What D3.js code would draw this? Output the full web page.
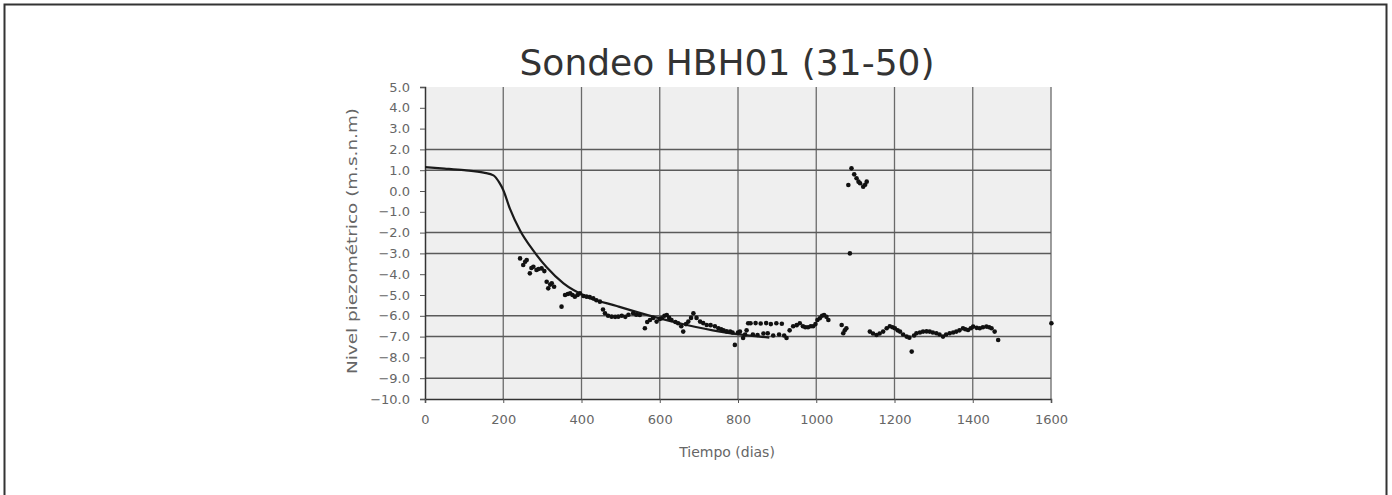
<!DOCTYPE html>
<html>
<head>
<meta charset="utf-8">
<script src="https://cdn.jsdelivr.net/npm/d3@7"></script>
<style>
  html, body { margin: 0; padding: 0; background: #fff; }
  svg { display: block; }
  text { font-family: "DejaVu Sans", sans-serif; }
</style>
</head>
<body>
<svg id="chart" width="1392" height="495"></svg>
<script>
// ---------------- data ----------------
const title = "Sondeo HBH01 (31-50)";
const xTitle = "Tiempo (dias)";
const yTitle = "Nivel piezométrico (m.s.n.m)";

const xTickValues = [0, 200, 400, 600, 800, 1000, 1200, 1400, 1600];
const yTickValues = [5, 4, 3, 2, 1, 0, -1, -2, -3, -4, -5, -6, -7, -8, -9, -10];
const gridLevels = [2, 1, -2, -3, -6, -7, -9];

// model curve
const modelDays   = [0, 50, 100, 150, 175, 190, 200, 217, 243, 277, 311, 354, 413, 490, 583, 669, 754, 813, 880];
const modelLevels = [1.15, 1.08, 1.0, 0.88, 0.75, 0.4, 0.05, -0.85, -1.9, -2.87, -3.67, -4.44, -5.08, -5.53, -6.04, -6.44, -6.76, -6.92, -7.05];

// observed levels
const obsDays = [
  243, 251, 256, 260, 268, 272, 277, 285, 290, 298, 305, 311, 315, 320, 324, 330, 349, 358, 365, 371,
  377, 383, 390, 396, 405, 413, 421, 430, 438, 447, 455, 460, 468, 477, 486, 494, 503, 512, 520, 532,
  540, 549, 562, 568, 575, 583, 592, 600, 605, 612, 618, 624, 630, 640, 647, 655, 660, 667, 673, 680,
  686, 694, 703, 711, 720, 730, 741, 750, 757, 763, 771, 780, 786, 792, 800, 805, 813, 818, 822, 826,
  832, 838, 845, 850, 858, 865, 872, 876, 884, 890, 898, 905, 912, 918, 924, 932, 941, 950, 958, 966,
  972, 979, 986, 992, 998, 1003, 1009, 1015, 1020, 1026, 1031, 1065, 1069, 1073, 1077,
  1082, 1086, 1090, 1097, 1103, 1108, 1112, 1120, 1125, 1129,
  1137, 1145, 1154, 1162, 1171, 1180, 1188, 1195, 1201, 1208, 1214, 1222, 1231, 1238, 1244, 1250,
  1256, 1265, 1273, 1282, 1290, 1298, 1307, 1315, 1324, 1332, 1341, 1350, 1358, 1366, 1375, 1381,
  1388, 1395, 1401, 1410, 1418, 1426, 1435, 1442, 1448, 1456, 1465, 1601
];
const obsLevels = [
  -3.24, -3.56, -3.4, -3.32, -3.96, -3.7, -3.64, -3.8, -3.75, -3.72, -3.85, -4.36, -4.68, -4.5, -4.44, -4.6, -5.56, -5.0, -4.95, -4.92,
  -5.0, -5.08, -5.0, -4.92, -5.05, -5.08, -5.1, -5.16, -5.25, -5.32, -5.7, -5.88, -6.0, -6.04, -6.05, -6.04, -6.0, -6.05, -5.95, -5.88,
  -5.95, -5.96, -6.6, -6.3, -6.2, -6.1, -6.28, -6.15, -6.12, -6.0, -5.96, -6.1, -6.2, -6.3, -6.36, -6.5, -6.76, -6.4, -6.28, -6.1,
  -5.88, -6.1, -6.28, -6.35, -6.44, -6.45, -6.5, -6.6, -6.65, -6.7, -6.75, -6.76, -6.8, -7.4, -6.8, -6.76, -7.07, -6.9, -6.7, -6.36,
  -6.36, -6.9, -6.35, -6.92, -6.37, -6.85, -6.35, -6.84, -6.4, -6.95, -6.36, -6.9, -6.38, -6.95, -7.07, -6.7, -6.5, -6.45, -6.36, -6.5,
  -6.55, -6.55, -6.5, -6.5, -6.4, -6.2, -6.12, -6.0, -5.96, -6.05, -6.2, -6.44, -6.84, -6.7, -6.6,
  0.29, -3.0, 1.09, 0.8, 0.61, 0.45, 0.37, 0.21, 0.3, 0.45,
  -6.76, -6.85, -6.92, -6.85, -6.76, -6.6, -6.5, -6.55, -6.6, -6.7, -6.76, -6.9, -7.0, -7.05, -7.72, -6.95,
  -6.84, -6.8, -6.76, -6.75, -6.76, -6.8, -6.84, -6.9, -7.0, -6.9, -6.84, -6.8, -6.76, -6.7, -6.6, -6.65,
  -6.68, -6.6, -6.52, -6.58, -6.6, -6.55, -6.52, -6.55, -6.6, -6.76, -7.16, -6.36
];

// ---------------- layout ----------------
const svg = d3.select("#chart");
const plot = { left: 425, right: 1051, top: 87, bottom: 399 };

const x = d3.scaleLinear().domain([0, 1600]).range([plot.left, plot.right]);
const y = d3.scaleLinear().domain([-10, 5]).range([plot.bottom, plot.top]);

// outer frame
svg.append("rect")
  .attr("x", 4.5).attr("y", 4.5)
  .attr("width", 1382).attr("height", 520)
  .attr("fill", "none").attr("stroke", "#333").attr("stroke-width", 2);

// plot background
svg.append("rect")
  .attr("x", plot.left).attr("y", plot.top)
  .attr("width", plot.right - plot.left).attr("height", plot.bottom - plot.top)
  .attr("fill", "#efefef");

// vertical grid lines
svg.append("g").selectAll("line")
  .data(xTickValues.filter(d => d > 0))
  .join("line")
  .attr("x1", d => x(d)).attr("x2", d => x(d))
  .attr("y1", plot.top).attr("y2", plot.bottom)
  .attr("stroke", "#6a6a6a").attr("stroke-width", 1.3);

// horizontal grid lines
svg.append("g").selectAll("line")
  .data(gridLevels)
  .join("line")
  .attr("x1", plot.left).attr("x2", plot.right)
  .attr("y1", d => y(d)).attr("y2", d => y(d))
  .attr("stroke", "#5a5a5a").attr("stroke-width", 1.5);

// axes
const yAxis = d3.axisLeft(y).tickValues(yTickValues).tickSize(5).tickPadding(10)
  .tickFormat(d3.format(".1f"));
const gy = svg.append("g").attr("transform", `translate(${plot.left},0)`).call(yAxis);
gy.select(".domain").attr("stroke", "#333").attr("stroke-width", 1.5);
gy.selectAll(".tick line").attr("stroke", "#555");
gy.selectAll(".tick text").attr("fill", "#666").style("font-size", "13px")
  .attr("font-family", "DejaVu Sans");

const xAxis = d3.axisBottom(x).tickValues(xTickValues).tickSize(4).tickPadding(12)
  .tickFormat(d3.format("d"));
const gx = svg.append("g").attr("transform", `translate(0,${plot.bottom})`).call(xAxis);
gx.select(".domain").attr("stroke", "#333").attr("stroke-width", 1.5);
gx.selectAll(".tick line").attr("stroke", "#555");
gx.selectAll(".tick text").attr("fill", "#666").style("font-size", "13px")
  .attr("font-family", "DejaVu Sans");

// model line
const modelData = modelDays.map((d, i) => [d, modelLevels[i]]);
svg.append("path")
  .datum(modelData)
  .attr("fill", "none")
  .attr("stroke", "#1a1a1a")
  .attr("stroke-width", 2.2)
  .attr("d", d3.line().x(d => x(d[0])).y(d => y(d[1])).curve(d3.curveMonotoneX));

// observed points
const obsData = obsDays.map((d, i) => [d, obsLevels[i]]);
svg.append("g").selectAll("circle")
  .data(obsData)
  .join("circle")
  .attr("cx", d => x(d[0])).attr("cy", d => y(d[1]))
  .attr("r", 2.3)
  .attr("fill", "#111");

// title
svg.append("text")
  .attr("x", 727).attr("y", 75)
  .attr("text-anchor", "middle")
  .attr("fill", "#333")
  .style("font-size", "36px")
  .attr("textLength", 415).attr("lengthAdjust", "spacingAndGlyphs")
  .text(title);

// x axis title
svg.append("text")
  .attr("x", 727).attr("y", 457)
  .attr("text-anchor", "middle")
  .attr("fill", "#666")
  .style("font-size", "14px")
  .text(xTitle);

// y axis title
svg.append("text")
  .attr("transform", `translate(357,${(plot.top + plot.bottom) / 2 - 2}) rotate(-90)`)
  .attr("text-anchor", "middle")
  .attr("fill", "#666")
  .style("font-size", "14px")
  .attr("textLength", 266).attr("lengthAdjust", "spacingAndGlyphs")
  .text(yTitle);
</script>
</body>
</html>
